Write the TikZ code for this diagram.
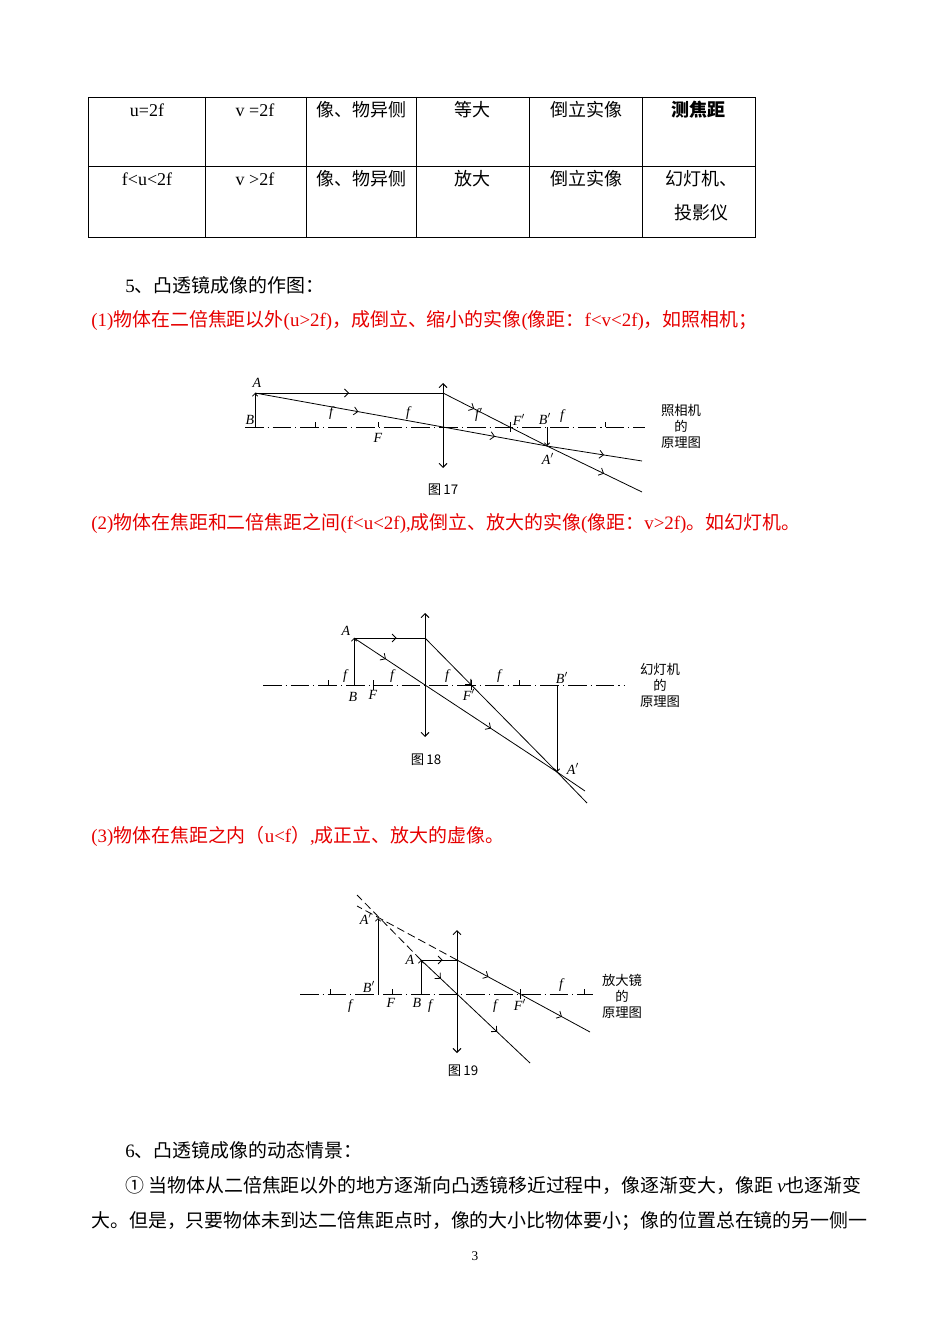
\documentclass[tikz,border=0pt]{standalone}
\usepackage{fontspec}
\setmainfont{Liberation Serif}
\newfontfamily\cjk{Noto Sans CJK SC}
\usetikzlibrary{arrows.meta,decorations.markings}
\definecolor{redtxt}{RGB}{230,0,0}
\begin{document}
\begin{tikzpicture}[x=0.75pt,y=-0.75pt,
  txt/.style={inner sep=0pt,font=\fontsize{13.5}{16}\selectfont},
  body/.style={inner sep=0pt,anchor=west,font=\fontsize{14.2}{16}\selectfont},
  lbl/.style={inner sep=0pt,font=\fontsize{10.5}{12}\selectfont\itshape},
  figcap/.style={inner sep=0pt,font=\cjk\fontsize{10}{12}\selectfont},
  ray/.style={line width=0.6pt},
  axisline/.style={line width=0.6pt,dash pattern=on 14pt off 3pt on 0.8pt off 3pt},
  lensline/.style={line width=0.7pt,{Straight Barb[length=3pt,width=6pt]}-{Straight Barb[length=3pt,width=6pt]}},
  mid/.style={postaction={decorate},decoration={markings,mark=at position #1 with {\arrow{Straight Barb[length=3pt,width=6pt]}}}},
  dash2/.style={line width=0.6pt,dash pattern=on 6pt off 3pt}]
\useasboundingbox (0,0) rectangle (950,1344);
\fill[white] (0,0) rectangle (950,1344);
% table
\draw[line width=0.7pt] (88,97) rectangle (755,237);
\draw[line width=0.7pt] (88,166) -- (755,166);
\foreach \x in {205,306,416,529,642} \draw[line width=0.7pt] (\x,97) -- (\x,237);
\node[txt] (t1) at (147,110) {u=2f};
\node[txt] (t2) at (255,110) {v =2f};
\node[txt] (t3) at (361,110) {\cjk 像、物异侧};
\node[txt] (t4) at (472,110) {\cjk 等大};
\node[txt] (t5) at (586,110) {\cjk 倒立实像};
\node[txt] (t6) at (698,110) {\cjk\bfseries 测焦距};
\node[txt] (t7) at (147,179) {f<u<2f};
\node[txt] (t8) at (255,179) {v >2f};
\node[txt] (t9) at (361,179) {\cjk 像、物异侧};
\node[txt] (t10) at (472,179) {\cjk 放大};
\node[txt] (t11) at (586,179) {\cjk 倒立实像};
\node[txt] (t12) at (701,179) {\cjk 幻灯机、};
\node[txt] (t13) at (701,213) {\cjk 投影仪};
% headings
\node[body] (h5) at (125,285) {5{\cjk 、凸透镜成像的作图：}};
\node[body,text=redtxt] (r1) at (91,320) {(1){\cjk 物体在二倍焦距以外}(u>2f){\cjk ，成倒立、缩小的实像}({\cjk 像距：}f<v<2f){\cjk ，如照相机；}};
\node[body,text=redtxt] (r2) at (91,523) {(2){\cjk 物体在焦距和二倍焦距之间}(f<u<2f),{\cjk 成倒立、放大的实像}({\cjk 像距：}v>2f){\cjk 。如幻灯机。}};
\node[body,text=redtxt] (r3) at (91,836) {(3){\cjk 物体在焦距之内（}u<f{\cjk ）}{,}{\cjk 成正立、放大的虚像。}};
\node[body] (h6) at (125,1150) {6{\cjk 、凸透镜成像的动态情景：}};
\node[body] (p1) at (125,1185) {{\cjk ① 当物体从二倍焦距以外的地方逐渐向凸透镜移近过程中，像逐渐变大，像距 }\textit{v}{\cjk 也逐渐变}};
\node[body] (p2) at (91,1221) {\cjk 大。但是，只要物体未到达二倍焦距点时，像的大小比物体要小；像的位置总在镜的另一侧一};
\node[inner sep=0pt,font=\fontsize{10}{12}\selectfont] (pg) at (475,1256) {3};
% ---- Fig 17
\draw[axisline] (245,427) -- (645,427);
\foreach \x in {315,378,605} \draw[line width=0.6pt] (\x,422) -- (\x,427);
\draw[line width=0.6pt] (510,422) -- (510,432);
\draw[lensline] (443,383) -- (443,468);
\coordinate (A17) at (255,393); \coordinate (B17) at (255,427);
\coordinate (L17) at (443,393); \coordinate (O17) at (443,427);
\coordinate (A17p) at (547,446); \coordinate (B17p) at (547,427);
\coordinate (E17a) at (642,461); \coordinate (E17b) at (642,492);
\draw[ray,-{Straight Barb[length=2pt,width=4pt]}] (B17) -- (A17);
\draw[ray,mid=0.5] (A17) -- (L17);
\draw[ray,mid=0.3] (L17) -- (A17p);
\draw[ray,mid=0.6] (A17p) -- (E17b);
\draw[ray,mid=0.55] (A17) -- (O17);
\draw[ray,mid=0.5] (O17) -- (A17p);
\draw[ray,mid=0.6] (A17p) -- (E17a);
\draw[ray,-{Straight Barb[length=2pt,width=4pt]}] (B17p) -- (A17p);
\node[lbl] (lA17) at (257,383) {A};
\node[lbl] (lB17) at (250,420) {B};
\node[lbl] (lf17a) at (331,413) {f};
\node[lbl] (lf17b) at (408,413) {f};
\node[lbl] (lF17) at (378,438) {F};
\node[lbl] (lf17c) at (479,415) {f$'$};
\node[lbl] (lF17p) at (519,420) {F$'$};
\node[lbl] (lB17p) at (545,419) {B$'$};
\node[lbl] (lf17d) at (562,416) {f};
\node[lbl] (lA17p) at (548,459) {A$'$};
\node[figcap,align=center] (c17) at (681,426) {照相机\\的\\原理图};
\node[figcap] (n17) at (443,490) {图\,17};
% ---- Fig 18
\draw[axisline] (263,685) -- (625,685);
\foreach \x in {328,519} \draw[line width=0.6pt] (\x,680) -- (\x,685);
\draw[line width=0.6pt] (373,680) -- (373,690);
\draw[line width=0.6pt] (471,680) -- (471,690);
\draw[lensline] (425,613) -- (425,737);
\coordinate (A18) at (354,638); \coordinate (B18) at (354,685);
\coordinate (L18) at (425,638); \coordinate (O18) at (425,685);
\coordinate (A18p) at (557,772); \coordinate (B18p) at (557,685);
\coordinate (E18a) at (585,791); \coordinate (E18b) at (587,803);
\draw[ray,-{Straight Barb[length=2pt,width=4pt]}] (B18) -- (A18);
\draw[ray,mid=0.6] (A18) -- (L18);
\draw[ray,mid=0.35] (L18) -- (A18p);
\draw[ray] (A18p) -- (E18b);
\draw[ray,mid=0.45] (A18) -- (O18);
\draw[ray,mid=0.5] (O18) -- (A18p);
\draw[ray] (A18p) -- (E18a);
\draw[ray,-{Straight Barb[length=2pt,width=4pt]}] (B18p) -- (A18p);
\node[lbl] (lA18) at (346,631) {A};
\node[lbl] (lf18a) at (345,676) {f};
\node[lbl] (lB18) at (353,697) {B};
\node[lbl] (lF18) at (373,695) {F};
\node[lbl] (lf18b) at (392,676) {f};
\node[lbl] (lf18c) at (447,676) {f};
\node[lbl] (lF18p) at (469,695) {F$'$};
\node[lbl] (lf18d) at (499,676) {f};
\node[lbl] (lB18p) at (562,678) {B$'$};
\node[lbl] (lA18p) at (573,769) {A$'$};
\node[figcap,align=center] (c18) at (660,685) {幻灯机\\的\\原理图};
\node[figcap] (n18) at (426,760) {图\,18};
% ---- Fig 19
\draw[axisline] (300,994) -- (593,994);
\foreach \x in {330,392,584} \draw[line width=0.6pt] (\x,989) -- (\x,994);
\draw[line width=0.6pt] (520,989) -- (520,999);
\draw[lensline] (457,930) -- (457,1053);
\coordinate (A19) at (421,960); \coordinate (B19) at (421,994);
\coordinate (L19) at (457,960); \coordinate (O19) at (457,994);
\coordinate (A19p) at (378,918); \coordinate (B19p) at (378,994);
\coordinate (F19p) at (520,994);
\coordinate (E19a) at (590,1032); \coordinate (E19b) at (530,1063);
\coordinate (D19a) at (357,906); \coordinate (D19b) at (357,895);
\draw[ray,-{Straight Barb[length=2pt,width=4pt]}] (B19) -- (A19);
\draw[ray,-{Straight Barb[length=2pt,width=4pt]}] (B19p) -- (A19p);
\draw[ray,mid=0.6] (A19) -- (L19);
\draw[ray,mid=0.5] (L19) -- (F19p);
\draw[ray,mid=0.6] (F19p) -- (E19a);
\draw[ray,mid=0.55] (A19) -- (O19);
\draw[ray,mid=0.55] (O19) -- (E19b);
\draw[dash2] (L19) -- (D19a);
\draw[dash2] (A19) -- (D19b);
\node[lbl] (lA19p) at (366,919) {A$'$};
\node[lbl] (lA19) at (410,960) {A};
\node[lbl] (lB19p) at (369,987) {B$'$};
\node[lbl] (lf19a) at (350,1006) {f};
\node[lbl] (lF19) at (391,1003) {F};
\node[lbl] (lB19) at (417,1003) {B};
\node[lbl] (lf19b) at (430,1006) {f};
\node[lbl] (lf19c) at (495,1006) {f};
\node[lbl] (lF19p) at (520,1005) {F$'$};
\node[lbl] (lf19d) at (561,985) {f};
\node[figcap,align=center] (c19) at (622,996) {放大镜\\的\\原理图};
\node[figcap] (n19) at (463,1071) {图\,19};
\end{tikzpicture}
\end{document}
